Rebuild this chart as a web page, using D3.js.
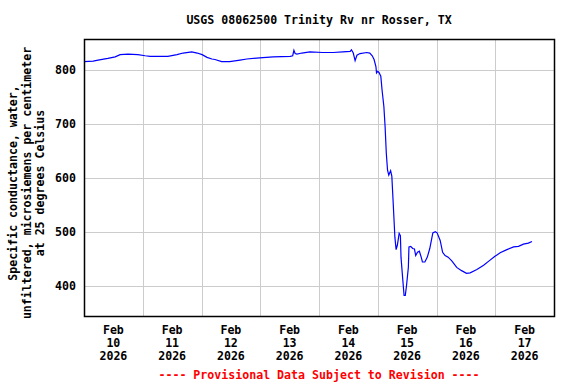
<!DOCTYPE html>
<html>
<head>
<meta charset="utf-8">
<script src="https://cdn.jsdelivr.net/npm/d3@7"></script>
<style>
  body { margin: 0; background: #fff; }
  text { font-family: "DejaVu Sans Mono", monospace; font-weight: bold; font-size: 11.6px; }
</style>
</head>
<body>
<svg id="chart"></svg>
<script>
var title = 'USGS 08062500 Trinity Rv nr Rosser, TX'
var yLabel = ['Specific conductance, water,', 'unfiltered, microsiemens per centimeter', 'at 25 degrees Celsius']
var footer = '---- Provisional Data Subject to Revision ----'

var yTicks = [400, 500, 600, 700, 800]
var dayTicks = ['2026-02-10', '2026-02-11', '2026-02-12', '2026-02-13', '2026-02-14', '2026-02-15', '2026-02-16', '2026-02-17']

// readings
var times = [
  '2026-02-10 00:00', '2026-02-10 03:45', '2026-02-10 05:45', '2026-02-10 09:45', '2026-02-10 12:45',
  '2026-02-10 14:45', '2026-02-10 18:00', '2026-02-10 22:00', '2026-02-11 01:00', '2026-02-11 03:00',
  '2026-02-11 07:00', '2026-02-11 10:15', '2026-02-11 14:00', '2026-02-11 16:30', '2026-02-11 20:00',
  '2026-02-11 22:15', '2026-02-12 00:15', '2026-02-12 02:15', '2026-02-12 04:15', '2026-02-12 05:30',
  '2026-02-12 08:15', '2026-02-12 11:30', '2026-02-12 15:45', '2026-02-12 18:30', '2026-02-12 23:45',
  '2026-02-13 05:15', '2026-02-13 12:15', '2026-02-13 13:15', '2026-02-13 13:45', '2026-02-13 14:15',
  '2026-02-13 15:00', '2026-02-13 17:00', '2026-02-13 20:15', '2026-02-14 01:30', '2026-02-14 05:45',
  '2026-02-14 09:45', '2026-02-14 12:45', '2026-02-14 13:15', '2026-02-14 14:00', '2026-02-14 14:45',
  '2026-02-14 15:30', '2026-02-14 16:45', '2026-02-14 19:30', '2026-02-14 20:45', '2026-02-14 21:45',
  '2026-02-14 22:30', '2026-02-14 23:15', '2026-02-14 23:30', '2026-02-15 00:00', '2026-02-15 00:30',
  '2026-02-15 01:15', '2026-02-15 01:45', '2026-02-15 02:30', '2026-02-15 03:00', '2026-02-15 03:30',
  '2026-02-15 04:00', '2026-02-15 04:30', '2026-02-15 05:15', '2026-02-15 05:45', '2026-02-15 06:15',
  '2026-02-15 07:00', '2026-02-15 07:30', '2026-02-15 08:00', '2026-02-15 08:45', '2026-02-15 09:15',
  '2026-02-15 09:30', '2026-02-15 10:15', '2026-02-15 10:45', '2026-02-15 11:15', '2026-02-15 11:45',
  '2026-02-15 12:30', '2026-02-15 12:45', '2026-02-15 13:30', '2026-02-15 14:15', '2026-02-15 15:00',
  '2026-02-15 15:30', '2026-02-15 16:15', '2026-02-15 17:00', '2026-02-15 17:45', '2026-02-15 18:15',
  '2026-02-15 19:15', '2026-02-15 20:15', '2026-02-15 21:15', '2026-02-15 22:30', '2026-02-15 23:30',
  '2026-02-16 00:15', '2026-02-16 01:30', '2026-02-16 02:30', '2026-02-16 03:30', '2026-02-16 04:45',
  '2026-02-16 06:15', '2026-02-16 08:15', '2026-02-16 10:15', '2026-02-16 12:15', '2026-02-16 13:45',
  '2026-02-16 16:30', '2026-02-16 19:15', '2026-02-16 21:45', '2026-02-16 23:45', '2026-02-17 02:00',
  '2026-02-17 04:45', '2026-02-17 07:30', '2026-02-17 09:30', '2026-02-17 11:30', '2026-02-17 13:30',
  '2026-02-17 15:00'
]
var values = [
  815, 816, 818, 821, 824,
  828, 829, 828, 826, 825,
  825, 825, 828, 831, 833,
  831, 828, 823, 820, 819,
  815, 815, 818, 820, 822,
  824, 825, 826, 836, 830,
  829, 831, 833, 832, 832,
  833, 834, 837, 831, 817,
  827, 830, 832, 831, 826,
  819, 806, 794, 797, 795,
  788, 763, 732, 695, 645,
  614, 605, 613, 603, 559,
  490, 467, 475, 497, 493,
  453, 410, 382, 382, 400,
  434, 472, 473, 469, 468,
  456, 462, 464, 453, 444,
  444, 453, 469, 498, 500,
  498, 484, 462, 456, 453,
  446, 434, 428, 423, 424,
  430, 438, 447, 454, 461,
  467, 472, 473, 477, 479,
  482
]

var W = 576, H = 384
var padL = 84, padR = 554, padT = 39, padB = 316

var parseT = d3.timeParse('%Y-%m-%d %H:%M')
var parseD = d3.timeParse('%Y-%m-%d')

var svg = d3.select('#chart').attr('width', W).attr('height', H)

var x = d3.scaleTime()
    .domain([parseD('2026-02-10'), parseD('2026-02-18')])
    .range([padL, padR])
var y = d3.scaleLinear()
    .domain([344, 857])
    .range([padB, padT])

var data = times.map(function (t, i) { return { t: parseT(t), v: values[i] } })

// grid
svg.append('g').selectAll('line')
    .data(yTicks).enter().append('line')
    .attr('x1', padL).attr('x2', padR)
    .attr('y1', function (d) { return Math.round(y(d)) + 0.5 })
    .attr('y2', function (d) { return Math.round(y(d)) + 0.5 })
    .attr('stroke', '#cccccc')

svg.append('g').selectAll('line')
    .data(dayTicks.slice(1)).enter().append('line')
    .attr('x1', function (d) { return Math.round(x(parseD(d))) + 0.5 })
    .attr('x2', function (d) { return Math.round(x(parseD(d))) + 0.5 })
    .attr('y1', padT).attr('y2', padB)
    .attr('stroke', '#cccccc')

// the series
var line = d3.line()
    .x(function (d) { return x(d.t) })
    .y(function (d) { return y(d.v) })

svg.append('path')
    .datum(data)
    .attr('d', line)
    .attr('fill', 'none')
    .attr('stroke', '#0000ff')
    .attr('stroke-width', 1.2)

// frame
svg.append('rect')
    .attr('x', padL + 0.5).attr('y', padT + 0.5)
    .attr('width', padR - padL).attr('height', padB - padT)
    .attr('fill', 'none')
    .attr('stroke', '#000')
    .attr('stroke-width', 1.5)

// y tick labels
svg.append('g').selectAll('text')
    .data(yTicks).enter().append('text')
    .attr('x', padL - 8)
    .attr('y', function (d) { return y(d) + 4 })
    .attr('text-anchor', 'end')
    .text(function (d) { return d })

// x labels, centred at noon of each day
var fmtMon = d3.timeFormat('%b'), fmtDay = d3.timeFormat('%d'), fmtYr = d3.timeFormat('%Y')
var xl = svg.append('g').selectAll('text')
    .data(dayTicks).enter().append('text')
    .attr('text-anchor', 'middle')
    .attr('transform', function (d) {
      return 'translate(' + x(d3.timeHour.offset(parseD(d), 12)) + ',0)'
    })
xl.append('tspan').attr('x', 0).attr('y', 334).text(function (d) { return fmtMon(parseD(d)) })
xl.append('tspan').attr('x', 0).attr('y', 347).text(function (d) { return fmtDay(parseD(d)) })
xl.append('tspan').attr('x', 0).attr('y', 360).text(function (d) { return fmtYr(parseD(d)) })

// title and footer
svg.append('text')
    .attr('x', (padL + padR) / 2).attr('y', 24)
    .attr('text-anchor', 'middle')
    .text(title)

svg.append('text')
    .attr('x', (padL + padR) / 2).attr('y', 379)
    .attr('text-anchor', 'middle')
    .attr('fill', '#ff0000')
    .text(footer)

// y axis label, three lines
svg.append('g').selectAll('text')
    .data(yLabel).enter().append('text')
    .attr('text-anchor', 'middle')
    .attr('transform', function (d, i) {
      return 'translate(' + (17 + i * 13.5) + ',183) rotate(-90)'
    })
    .text(function (d) { return d })
</script>
</body>
</html>
